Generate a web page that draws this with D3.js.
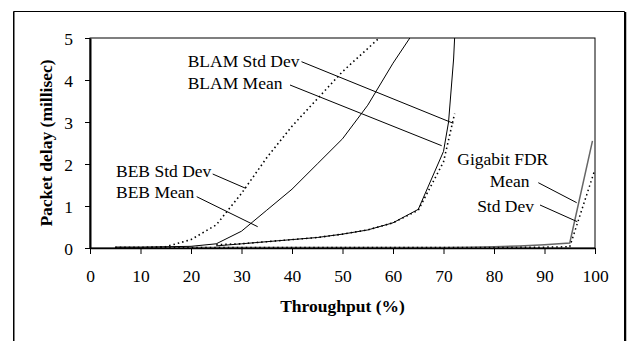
<!DOCTYPE html>
<html><head><meta charset="utf-8">
<script src="https://cdn.jsdelivr.net/npm/d3@7"></script>
<style>body{margin:0;background:#fff}svg{display:block}text{font-family:"Liberation Serif","Times New Roman",serif;fill:#000}</style>
</head><body><svg id="c" width="627" height="341"></svg>
<script>
const xTicks = [0,10,20,30,40,50,60,70,80,90,100];
const yTicks = [0,1,2,3,4,5];
const bebX = [5,10,15,20,25,30,35,40,45,50,55,60,65];
const bebMean = [0.02,0.02,0.03,0.04,0.1,0.4,0.9,1.4,2.0,2.6,3.4,4.4,5.3];
const bebStdX = [5,10,15,20,25,30,35,40,45,50,55,60];
const bebStd = [0.01,0.01,0.03,0.2,0.55,1.3,2.15,2.9,3.55,4.2,4.75,5.3];
const blamX = [25,30,35,40,45,50,55,60,65,70,71,72,72.4];
const blamMean = [0.05,0.1,0.15,0.2,0.25,0.33,0.43,0.6,0.92,2.3,3.0,4.5,5.5];
const blamStdX = [25,30,35,40,45,50,55,60,65,70,72.2];
const blamStd = [0.08,0.1,0.15,0.2,0.25,0.33,0.43,0.6,0.9,2.05,3.2];
const gigX = [5,10,20,30,40,50,60,70,75,80,85,90,95,99.5];
const gigMean = [0.01,0.01,0.01,0.01,0.01,0.01,0.01,0.01,0.02,0.03,0.05,0.08,0.12,2.55];
const gigStdX = [5,10,20,30,40,50,60,70,80,90,95,99.8];
const gigStd = [0.01,0.01,0.01,0.01,0.01,0.01,0.01,0.01,0.01,0.02,0.03,1.8];

const svg = d3.select("#c");
const L=90,R=595,T=38,B=248;
const x = d3.scaleLinear().domain([0,100]).range([L,R]);
const y = d3.scaleLinear().domain([0,5]).range([B,T]);

// outer frame
svg.append("path").attr("d","M13.5,341 V11.5 H624.5 V341").attr("fill","none").attr("stroke","#000").attr("stroke-width",1);
svg.append("line").attr("x1",14).attr("x2",14).attr("y1",12).attr("y2",341).attr("stroke","#000").attr("stroke-width",1);
svg.append("line").attr("x1",625.5).attr("x2",625.5).attr("y1",12).attr("y2",341).attr("stroke","#000").attr("stroke-width",1.5);

// plot box
svg.append("rect").attr("x",L).attr("y",T).attr("width",R-L).attr("height",B-T).attr("fill","none").attr("stroke","#000").attr("stroke-width",1);

svg.append("defs").append("clipPath").attr("id","clip").append("rect").attr("x",L).attr("y",T).attr("width",R-L).attr("height",B-T+2);

const g = svg.append("g").attr("clip-path","url(#clip)");
const line = d3.line().x(d=>x(d[0])).y(d=>y(d[1]));
function draw(xs, ys, dotted, color, w){
  g.append("path").attr("d", line(xs.map((v,i)=>[v,ys[i]])))
   .attr("fill","none").attr("stroke",color||"#000").attr("stroke-width",w||1)
   .attr("stroke-dasharray", dotted ? "1.5,3" : null);
}
draw(gigX, gigMean, false, "#666", 1.5);
draw(gigStdX, gigStd, true, "#000", 1.5);
draw(bebX, bebMean, false);
draw(bebStdX, bebStd, true, "#000", 1.6);
draw(blamX, blamMean, false);
draw(blamStdX, blamStd, true, "#000", 1.6);

// axes
const xa = svg.append("g").attr("transform",`translate(0,${B})`)
  .call(d3.axisBottom(x).tickValues(xTicks).tickFormat(d3.format("d")).tickSize(6).tickSizeOuter(0));
xa.select(".domain").attr("stroke-width",1.5);
xa.selectAll("text").attr("font-size","17.5px").attr("font-family","Liberation Serif").attr("dy",null).attr("y",33.5);
const ya = svg.append("g").attr("transform",`translate(${L},0)`)
  .call(d3.axisLeft(y).tickValues(yTicks).tickFormat(d3.format("d")).tickSize(5).tickSizeOuter(0));
ya.select(".domain").attr("stroke-width",2);
ya.selectAll("text").attr("font-size","17.5px").attr("font-family","Liberation Serif").attr("x",-17).attr("dy","0.35em");

svg.append("text").attr("x",(L+R)/2).attr("y",311.5).attr("text-anchor","middle")
  .attr("font-weight","bold").attr("font-size","17.5px").text("Throughput (%)");
svg.append("text").attr("transform",`translate(52,${(T+B)/2}) rotate(-90)`).attr("text-anchor","middle")
  .attr("font-weight","bold").attr("font-size","17.5px").text("Packet delay (millisec)");

// annotations
const ann = [
  ["BLAM Std Dev",187.7,66.7,"start",[301.5,61.7],[453.3,123.3]],
  ["BLAM Mean",187.7,89.3,"start",[290,85],[441.7,145.7]],
  ["BEB Std Dev",116,176.7,"start",[212.7,174],[245.7,188.3]],
  ["BEB Mean",116,198.3,"start",[196.7,196.7],[257.7,226.7]],
  ["Gigabit FDR",457.3,165,"start",null,null],
  ["Mean",529.5,186.7,"end",[538.3,182.7],[576.7,202.7]],
  ["Std Dev",534,211.7,"end",[540,205],[577.3,221.7]]
];
ann.forEach(a=>{
  svg.append("text").attr("x",a[1]).attr("y",a[2]).attr("text-anchor",a[3]).attr("font-size","17.5px").text(a[0]);
  if(a[4]) svg.append("line").attr("x1",a[4][0]).attr("y1",a[4][1]).attr("x2",a[5][0]).attr("y2",a[5][1]).attr("stroke","#000").attr("stroke-width",1);
});
</script></body></html>
